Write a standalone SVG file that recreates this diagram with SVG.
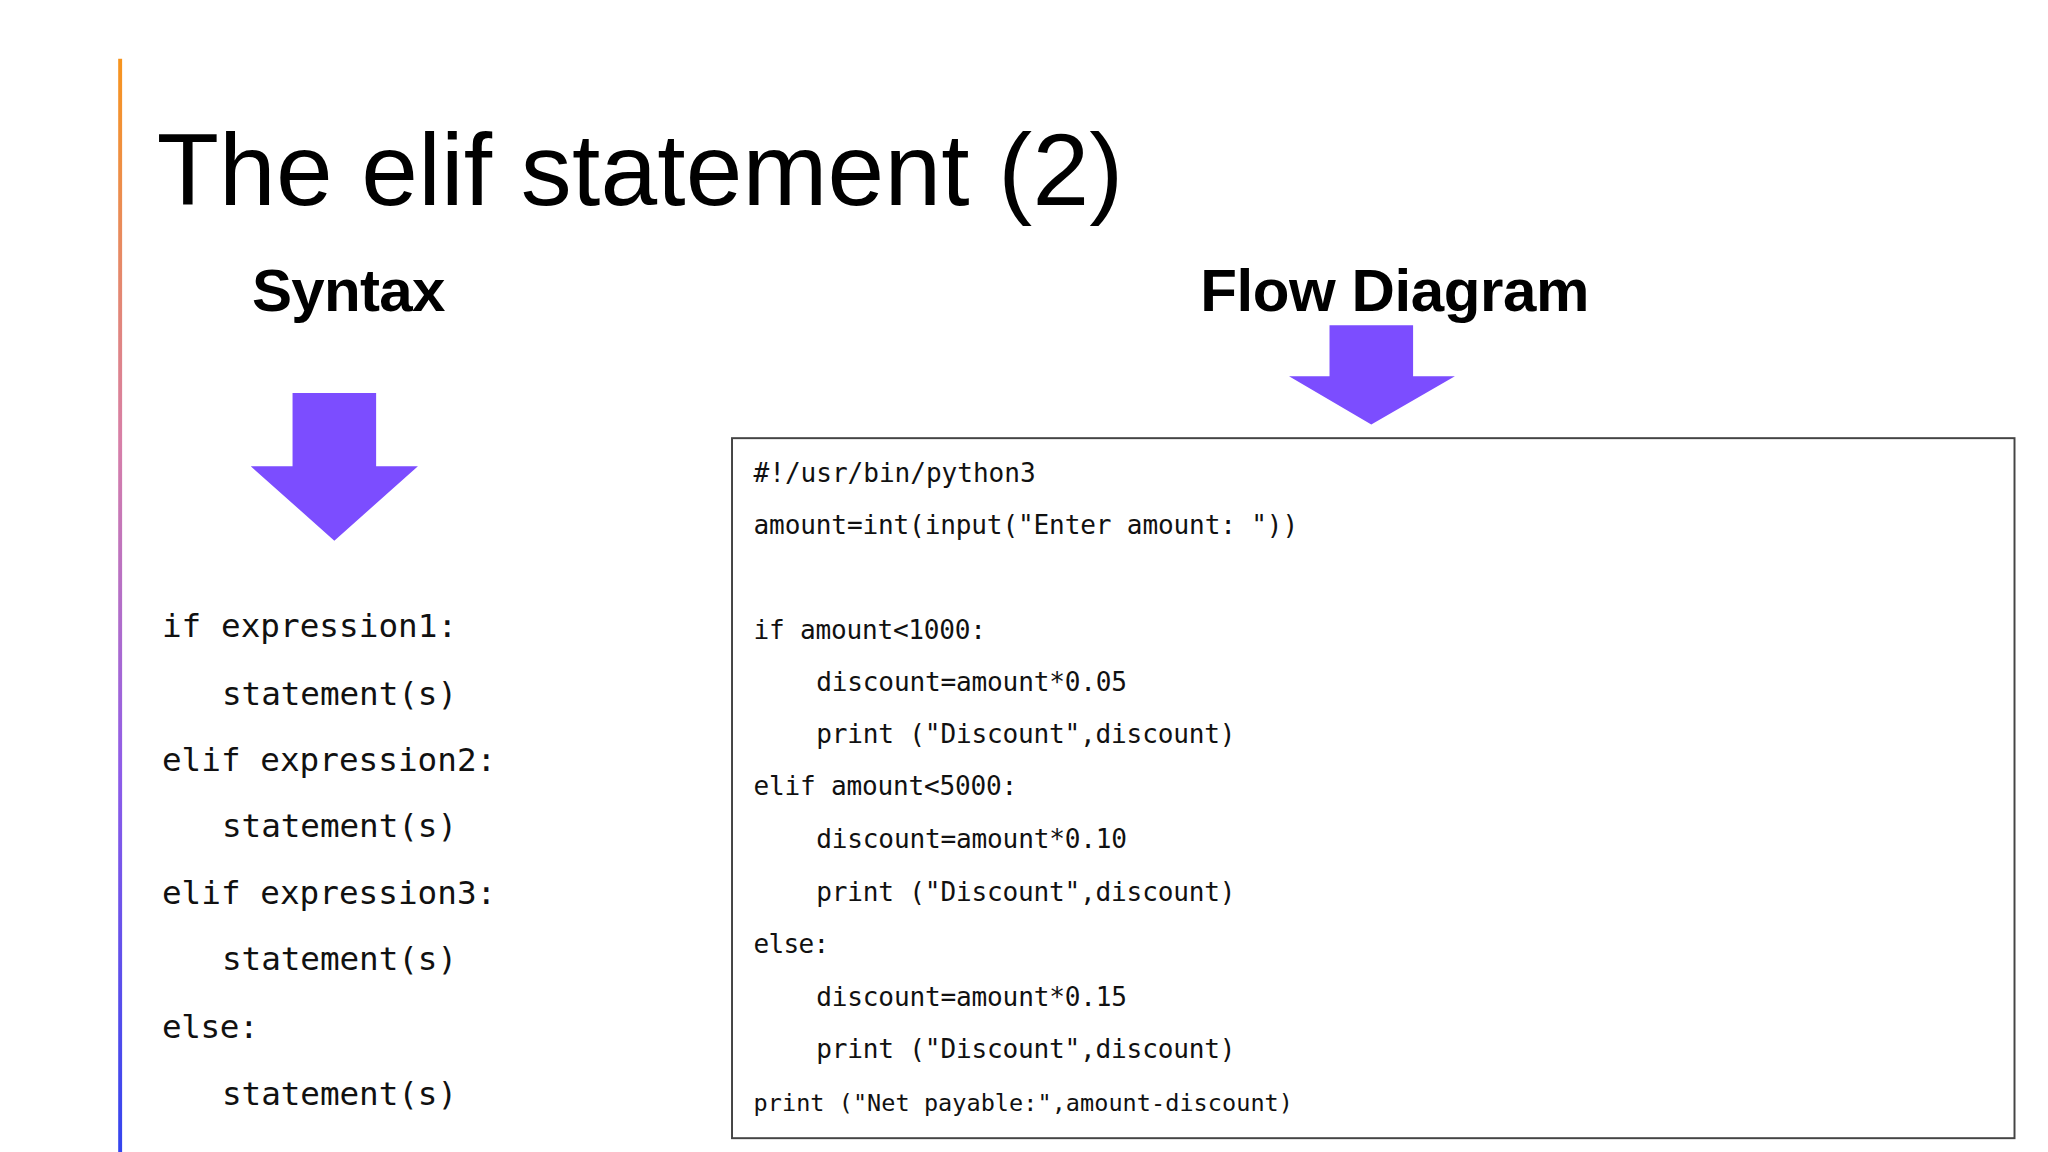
<svg xmlns="http://www.w3.org/2000/svg" width="2048" height="1152" viewBox="0 0 2048 1152">
<defs>
<linearGradient id="bar" x1="0" y1="0" x2="0" y2="1">
<stop offset="0" stop-color="#f7941d"/><stop offset="0.35" stop-color="#d77fa8"/><stop offset="0.65" stop-color="#8e5ce8"/><stop offset="1" stop-color="#3344ee"/>
</linearGradient>
<style>
.t{font-family:"Liberation Sans",Arial,sans-serif;fill:#000}
.h{font-family:"Liberation Sans",Arial,sans-serif;font-weight:bold;font-size:46px;fill:#000}
.m{font-family:"DejaVu Sans Mono","Liberation Mono",monospace;fill:#111}
.l{font-size:25px}
.r{font-size:20px}
.arrow{fill:#7c4dff}
</style>
</defs>
<rect width="2048" height="1152" fill="#fff"/>
<g transform="scale(1.306,1.306)">
<rect id="bar-line" x="90.5" y="45" width="3" height="840" fill="url(#bar)"/>
<text id="title" class="t" x="120" y="157" font-size="78" textLength="740">The elif statement (2)</text>
<text id="syntax-h" class="h" x="193" y="238" textLength="148">Syntax</text>
<text id="flow-h" class="h" x="919" y="238" textLength="298">Flow Diagram</text>
<g id="arrow1"><polygon class="arrow" points="224,301 288,301 288,357 320,357 256,414 192,357 224,357"/></g>
<g id="arrow2"><polygon class="arrow" points="1018,249 1082,249 1082,288 1114,288 1050,325 987,288 1018,288"/></g>
<g id="syntax" class="m l">
<text x="124" y="488" textLength="226">if expression1:</text>
<text x="170" y="540" textLength="180">statement(s)</text>
<text x="124" y="590" textLength="256">elif expression2:</text>
<text x="170" y="641" textLength="180">statement(s)</text>
<text x="124" y="692" textLength="256">elif expression3:</text>
<text x="170" y="743" textLength="180">statement(s)</text>
<text x="124" y="795" textLength="74">else:</text>
<text x="170" y="846" textLength="180">statement(s)</text>
</g>
<g id="code-box">
<rect x="560.5" y="335.5" width="982" height="536" fill="#fff" stroke="#444" stroke-width="1.5"/>
<g class="m r">
<text x="577" y="369" textLength="216">#!/usr/bin/python3</text>
<text x="577" y="409" textLength="417">amount=int(input("Enter amount: "))</text>
<text x="577" y="489" textLength="178">if amount&lt;1000:</text>
<text x="625" y="529" textLength="238">discount=amount*0.05</text>
<text x="625" y="569" textLength="321">print ("Discount",discount)</text>
<text x="577" y="609" textLength="202">elif amount&lt;5000:</text>
<text x="625" y="649" textLength="238">discount=amount*0.10</text>
<text x="625" y="690" textLength="321">print ("Discount",discount)</text>
<text x="577" y="730" textLength="58">else:</text>
<text x="625" y="770" textLength="238">discount=amount*0.15</text>
<text x="625" y="810" textLength="321">print ("Discount",discount)</text>
<text x="577" y="851" textLength="413" font-size="18">print ("Net payable:",amount-discount)</text>
</g>
</g>
</g>
</svg>
